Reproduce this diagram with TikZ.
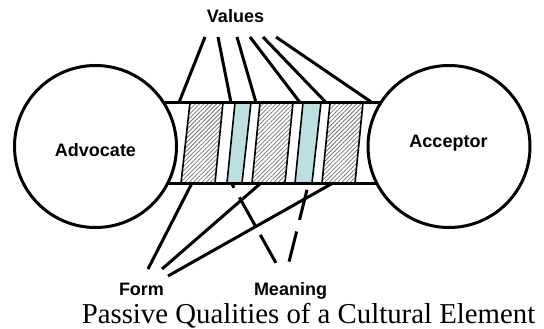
\documentclass[tikz,border=0pt]{standalone}
\usepackage{fontspec}
\setmainfont{Liberation Serif}
\setsansfont{Liberation Sans}
\usetikzlibrary{patterns.meta}
\definecolor{stripeblue}{RGB}{188,224,226}

\begin{document}
\begin{tikzpicture}[x=1pt, y=-1pt]
  \tikzstyle{blob}=[circle, draw, line width=3pt, fill=white, minimum size=162pt, inner sep=0pt]
  \tikzstyle{lbl}=[font=\sffamily\bfseries\fontsize{18}{20}\selectfont, anchor=base, inner sep=0pt]
  \tikzstyle{stroke}=[line width=3pt]
  \tikzstyle{hatch}=[draw, line width=1.6pt, pattern={Lines[angle=45, distance=3pt, line width=0.75pt]}, pattern color=black!55]
  \tikzstyle{tint}=[draw, line width=1.6pt, fill=stripeblue]

  \useasboundingbox (0,0) rectangle (544,329);

  % stripes of the band
  \foreach \tl/\tr/\bl/\br in {190/223/181/215, 260/293/252/285, 330/363/322/355}
  {
    \path[hatch] (\tl,102.5) -- (\tr,102.5) -- (\br,183) -- (\bl,183) -- cycle;
  }
  \foreach \tl/\tr/\bl/\br in {235/251/227/242, 303/321/295/312}
  {
    \path[tint] (\tl,102.5) -- (\tr,102.5) -- (\br,183) -- (\bl,183) -- cycle;
  }

  \coordinate (bandtop) at (0,102.5);
  \coordinate (bandbot) at (0,183);
  \path (95.5,146.5) coordinate (advc) (449,146.5) coordinate (accc);
  \draw[stroke]
    (advc |- bandtop) -- (accc |- bandtop)
    (advc |- bandbot) -- (accc |- bandbot);

  \node[blob] (adv) at (advc) {};
  \node[blob] (acc) at (accc) {};
  \node[lbl] (advtext) at (95.5,156.5) {Advocate};
  \node[lbl] (acctext) at (448.5,147.3) {Acceptor};

  % values
  \node[lbl] (values) at (235.5,23) {Values};
  \foreach \i/\vx/\tx in {1/205/179, 2/218/231, 3/237/256, 4/250/300, 5/263/326, 6/276/372}
  {
    \coordinate (v\i) at (\vx,37);
    \coordinate (t\i) at (\tx,102.5);
    \draw[stroke] (v\i) -- (t\i);
  }

  % form
  \node[lbl] (form) at (141.5,295) {Form};
  \foreach \i/\bx/\fx/\fy in {1/192/148/269, 2/261/162/269, 3/333/168/276}
  {
    \coordinate (b\i) at (\bx,183);
    \coordinate (f\i) at (\fx,\fy);
    \draw[stroke] (b\i) -- (f\i);
  }

  % meaning
  \node[lbl] (meaning) at (290.5,295) {Meaning};
  \coordinate (m1) at (231.4,183);
  \coordinate (m2) at (308.7,183);
  \coordinate (e1) at (276,263);
  \coordinate (e2) at (289,262);
  \draw[stroke, dash pattern=on 32pt off 11pt, dash phase=26.6pt] (m1) -- (e1);
  \draw[stroke, dash pattern=on 31pt off 12pt, dash phase=36pt] (m2) -- (e2);

  \node[font=\fontsize{28.8}{32}\selectfont, anchor=base, inner sep=0pt] (caption) at (308.5,323)
    {Passive Qualities of a Cultural Element};
\end{tikzpicture}
\end{document}
